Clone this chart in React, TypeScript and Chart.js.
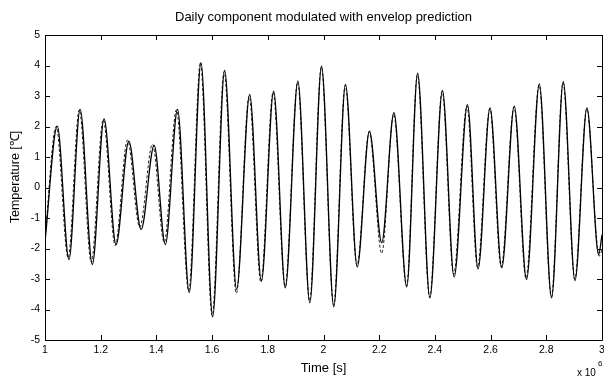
import React, { useEffect, useRef } from 'react';
import { Chart, registerables } from 'chart.js';
Chart.register(...registerables);

const chartTitle = 'Daily component modulated with envelop prediction';
const xAxisLabel = 'Time [s]';
const yAxisLabel = 'Temperature [\u2103]';
const xTickValues = [1, 1.2, 1.4, 1.6, 1.8, 2, 2.2, 2.4, 2.6, 2.8, 3];
const yTickValues = [-5, -4, -3, -2, -1, 0, 1, 2, 3, 4, 5];

// Time in units of 10^6 s, temperature in degrees C (extrema of the daily oscillation)
const solidTime = [
  1.000, 1.044, 1.086, 1.126, 1.170, 1.212, 1.255, 1.301, 1.345, 1.392, 1.432, 1.476,
  1.518, 1.560, 1.602, 1.645, 1.688, 1.735, 1.777, 1.821, 1.863, 1.908, 1.951, 1.993,
  2.037, 2.079, 2.121, 2.165, 2.209, 2.253, 2.299, 2.338, 2.382, 2.427, 2.469, 2.517,
  2.555, 2.598, 2.640, 2.685, 2.729, 2.775, 2.819, 2.861, 2.903, 2.946, 2.988, 3.000,
];
const solidTemp = [
  -1.78, 2.01, -2.36, 2.56, -2.52, 2.25, -1.87, 1.52, -1.38, 1.38, -1.87, 2.56,
  -3.45, 4.09, -4.24, 3.84, -3.34, 3.05, -3.07, 3.16, -3.29, 3.49, -3.78, 3.98,
  -3.91, 3.38, -2.60, 1.85, -1.81, 2.45, -3.26, 3.75, -3.62, 3.18, -2.93, 2.72,
  -2.67, 2.61, -2.63, 2.67, -3.02, 3.40, -3.62, 3.47, -3.05, 2.61, -2.20, -1.55,
];
const dashedTime = [
  1.000, 1.040, 1.083, 1.123, 1.166, 1.209, 1.252, 1.296, 1.340, 1.386, 1.428, 1.472,
  1.516, 1.558, 1.600, 1.643, 1.687, 1.733, 1.775, 1.819, 1.862, 1.907, 1.950, 1.992,
  2.036, 2.078, 2.120, 2.164, 2.209, 2.252, 2.298, 2.337, 2.381, 2.426, 2.467, 2.515,
  2.553, 2.597, 2.638, 2.684, 2.727, 2.774, 2.818, 2.860, 2.902, 2.945, 2.990, 3.000,
];
const dashedTemp = [
  -1.65, 2.00, -2.30, 2.55, -2.45, 2.22, -1.90, 1.55, -1.30, 1.42, -1.80, 2.55,
  -3.40, 4.10, -4.20, 3.80, -3.47, 3.00, -3.10, 3.12, -3.25, 3.45, -3.72, 3.95,
  -3.85, 3.35, -2.55, 1.82, -2.16, 2.40, -3.22, 3.70, -3.60, 3.15, -2.85, 2.68,
  -2.62, 2.58, -2.60, 2.64, -2.98, 3.36, -3.58, 3.44, -3.00, 2.58, -2.25, -2.05,
];

const FONT = "'Liberation Sans', Arial, sans-serif";

const boxPlugin = {
  id: 'matlabBox',
  afterDatasetsDraw(chart: any) {
    const { ctx, chartArea: a, scales } = chart;
    const xs = scales.x, ys = scales.y;
    ctx.save();
    ctx.strokeStyle = '#000';
    ctx.lineWidth = 1;
    ctx.beginPath();
    ctx.rect(Math.round(a.left) + 0.5, Math.round(a.top) + 0.5, Math.round(a.right - a.left), Math.round(a.bottom - a.top));
    ctx.stroke();
    const L = 5;
    ctx.beginPath();
    xTickValues.forEach((v) => {
      const px = Math.round(xs.getPixelForValue(v)) + 0.5;
      ctx.moveTo(px, a.bottom); ctx.lineTo(px, a.bottom - L);
      ctx.moveTo(px, a.top); ctx.lineTo(px, a.top + L);
    });
    yTickValues.forEach((v) => {
      const py = Math.round(ys.getPixelForValue(v)) + 0.5;
      ctx.moveTo(a.left, py); ctx.lineTo(a.left + L, py);
      ctx.moveTo(a.right, py); ctx.lineTo(a.right - L, py);
    });
    ctx.stroke();
    ctx.fillStyle = '#000';
    // title centred over the plot area
    ctx.textAlign = 'center';
    ctx.textBaseline = 'alphabetic';
    ctx.font = `13px ${FONT}`;
    ctx.fillText(chartTitle, (a.left + a.right) / 2, 21);
    // y-axis label
    ctx.save();
    ctx.translate(19, 177);
    ctx.rotate(-Math.PI / 2);
    ctx.font = `12.5px ${FONT}`;
    ctx.fillText(yAxisLabel, 0, 0);
    ctx.restore();
    // exponent
    ctx.textAlign = 'left';
    ctx.font = `10px ${FONT}`;
    ctx.fillText('x 10', 577, 376);
    ctx.font = `8px ${FONT}`;
    ctx.fillText('6', 598, 366);
    ctx.restore();
  },
};

export default function App() {
  const ref = useRef<HTMLCanvasElement>(null);
  useEffect(() => {
    document.body.style.margin = '0';
    const chart = new Chart(ref.current!, {
      type: 'line',
      data: {
        datasets: [
          {
            label: 'measured',
            data: solidTime.map((t, i) => ({ x: t, y: solidTemp[i] })),
            borderColor: '#000',
            borderWidth: 1.3,
            pointRadius: 0,
            cubicInterpolationMode: 'monotone',
            fill: false,
          },
          {
            label: 'prediction',
            data: dashedTime.map((t, i) => ({ x: t, y: dashedTemp[i] })),
            borderColor: '#222',
            borderWidth: 1,
            borderDash: [3, 2],
            pointRadius: 0,
            cubicInterpolationMode: 'monotone',
            fill: false,
          },
        ],
      },
      options: {
        animation: false,
        responsive: false,
        maintainAspectRatio: false,
        layout: { padding: { left: 0, right: 2, top: 35, bottom: 0 } },
        plugins: {
          legend: { display: false },
          tooltip: { enabled: false },
          title: { display: false },
        },
        scales: {
          x: {
            type: 'linear',
            min: 1,
            max: 3,
            afterBuildTicks: (s: any) => { s.ticks = xTickValues.map((v) => ({ value: v })); },
            afterFit: (s: any) => { s.height = 39; s.paddingRight = 0; s.paddingLeft = 0; },
            ticks: {
              color: '#000',
              font: { family: FONT, size: 10.5 },
              padding: 4,
              maxRotation: 0,
              autoSkip: false,
              callback: (v: any) => String(Math.round(Number(v) * 10) / 10),
            },
            grid: { display: false, drawTicks: false },
            border: { display: false },
            title: {
              display: true,
              text: xAxisLabel,
              color: '#000',
              font: { family: FONT, size: 13 },
              padding: { top: 0, bottom: 3.2 },
            },
          },
          y: {
            type: 'linear',
            min: -5,
            max: 5,
            afterBuildTicks: (s: any) => { s.ticks = yTickValues.map((v) => ({ value: v })); },
            afterFit: (s: any) => { s.width = 45; s.paddingTop = 0; s.paddingBottom = 0; },
            ticks: {
              color: '#000',
              font: { family: FONT, size: 10.5 },
              padding: 5,
              autoSkip: false,
            },
            grid: { display: false, drawTicks: false },
            border: { display: false },
            title: { display: false },
          },
        },
      },
      plugins: [boxPlugin],
    } as any);
    return () => chart.destroy();
  }, []);
  return (
    <div style={{ width: 604, height: 379 }}>
      <canvas ref={ref} width={604} height={379} style={{ display: 'block' }} />
    </div>
  );
}
